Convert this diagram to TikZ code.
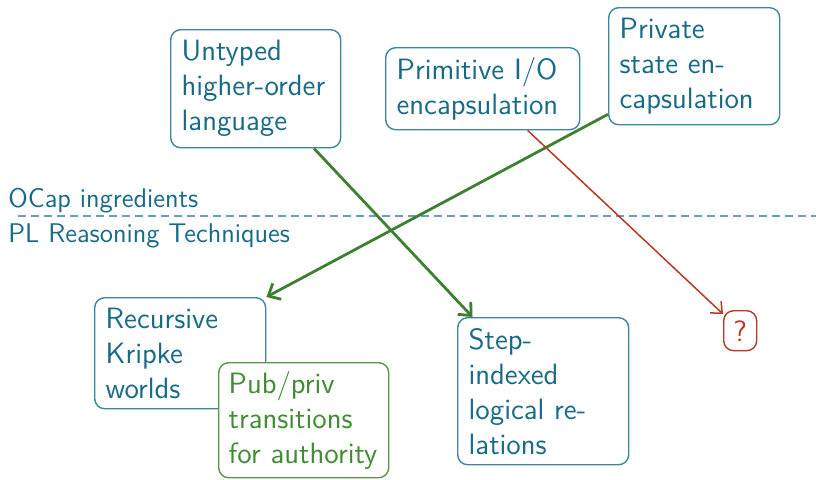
\documentclass[tikz,border=0pt]{standalone}
\usetikzlibrary{calc,arrows.meta}
\definecolor{tealtext}{RGB}{23,107,135}
\definecolor{tealline}{RGB}{60,135,160}
\definecolor{dashcol}{RGB}{100,160,182}
\definecolor{greenarr}{RGB}{62,128,50}
\definecolor{greentext}{RGB}{64,140,50}
\definecolor{greenline}{RGB}{90,150,70}
\definecolor{redcol}{RGB}{185,55,35}
\begin{document}
\begin{tikzpicture}[x=0.5pt,y=-0.5pt,
  box/.style={draw=tealline, rounded corners=5pt, line width=0.7pt, fill=white,
    text=tealtext, align=left, anchor=north west, inner xsep=5.5pt, inner ysep=0pt,
    font=\sffamily\fontsize{14.7}{17.5}\selectfont},
  gbox/.style={box, draw=greenline, text=greentext},
  qbox/.style={draw=redcol, text=redcol, rounded corners=5pt, line width=0.7pt,
    anchor=north west, inner sep=0pt, minimum width=16.5pt, minimum height=20pt,
    font=\sffamily\fontsize{14.7}{17.5}\selectfont},
  lbl/.style={text=tealtext, anchor=base west, inner sep=0pt,
    font=\sffamily\fontsize{13.5}{16}\selectfont},
  greenarrow/.style={draw=greenarr, line width=1.4pt, -{Straight Barb[length=5pt,width=9pt]}},
  redarrow/.style={draw=redcol, line width=0.75pt, -{Straight Barb[length=4.5pt,width=8pt]}},
  dashline/.style={draw=dashcol, line width=0.7pt, dash pattern=on 4pt off 2.5pt}
]
\useasboundingbox (0,0) rectangle (816,479);

\node[box, text width=74pt, minimum height=59pt] (untyped) at (170,29) {Untyped\\higher-order\\language};
\node[box, text width=86pt, minimum height=41pt] (prim) at (385,47) {Primitive I/O\\encapsulation};
\node[box, text width=74.5pt, minimum height=58.5pt] (private) at (608,7) {Private\\state en-\\capsulation};

\node[lbl] (ocap) at (8,207) {OCap ingredients};
\node[lbl] (pl) at (8,242) {PL Reasoning Techniques};
\draw[dashline] (18,216) -- (816,216);

\node[box, text width=74.5pt, minimum height=55.5pt] (recursive) at (94,297) {Recursive\\Kripke\\worlds};
\node[gbox, text width=75pt, minimum height=57.5pt, inner xsep=5pt] (pubpriv) at (218,362) {Pub/priv\\transitions\\for authority};
\node[box, text width=74.5pt, minimum height=73.5pt] (step) at (457,317) {Step-\\indexed\\logical re-\\lations};
\node[qbox] (q) at (723,310) {?};

\draw[greenarrow] ($(untyped.south west)!0.84!(untyped.south east)$) -- ($(step.north west)!0.09!(step.north east)$);
\draw[greenarrow] ($(private.north west)!0.906!(private.south west)$) -- (recursive.north east);
\draw[redarrow] ($(prim.south west)!0.73!(prim.south east)$) -- ($(q.north west)+(0,4)$);
\end{tikzpicture}
\end{document}
